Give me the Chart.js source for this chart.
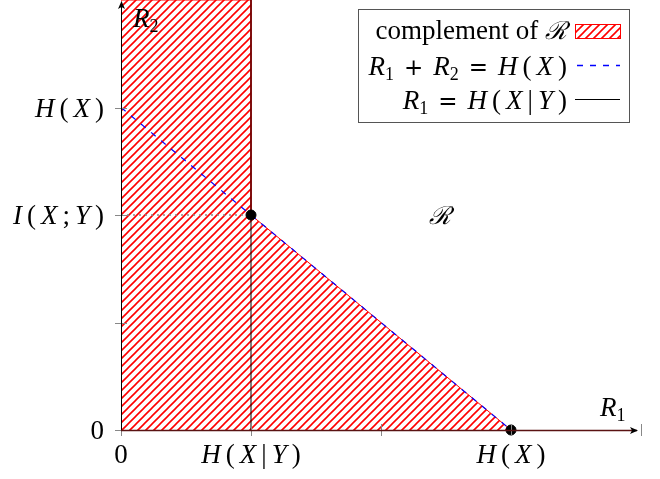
<!DOCTYPE html>
<html>
<head>
<meta charset="utf-8">
<script src="https://cdn.jsdelivr.net/npm/chart.js@4.4.0/dist/chart.umd.min.js"></script>
<style>
  body { margin: 0; background: #fff; }
</style>
</head>
<body>
<canvas id="region-chart" width="660" height="479"></canvas>
<script>
// region outside the achievable rate region
const complementR1 = [0, 0, 1, 1, 3];
const complementR2 = [0, 4, 4, 2, 0];
// R1 + R2 = H(X)
const sumR1 = [0, 3];
const sumR2 = [3, 0];
// R1 = H(X|Y)
const condR1 = [1, 1];
const condR2 = [0, 4];
// dotted level at I(X;Y)
const levelR1 = [0, 1];
const levelR2 = [2, 2];
// corner points
const cornerR1 = [1, 3];
const cornerR2 = [2, 0];

const xTicks = [0, 1, 2, 3, 4];
const xTickLabels = ['0', 'H(X|Y)', '', 'H(X)', ''];
const yTicks = [0, 1, 2, 3];
const yTickLabels = ['0', '', 'I(X;Y)', 'H(X)'];

const legendLabels = ['complement of \u211B', 'R_1 + R_2 = H(X)', 'R_1 = H(X|Y)'];

const SERIF = '"Liberation Serif", "DejaVu Serif", serif';

function pts(xs, ys) {
  return xs.map((x, i) => ({ x: x, y: ys[i] }));
}

function makeHatch() {
  const c = document.createElement('canvas');
  c.width = 8; c.height = 8;
  const g = c.getContext('2d');
  g.strokeStyle = '#ff0000';
  g.lineWidth = 1.6;
  g.beginPath();
  g.moveTo(-2, 10); g.lineTo(10, -2);
  g.moveTo(-2, 2); g.lineTo(2, -2);
  g.moveTo(6, 10); g.lineTo(10, 6);
  g.stroke();
  return g.createPattern(c, 'repeat');
}
const hatch = makeHatch();

// split a label into pieces: words, italic letters, subscripts, operators
function tokens(str) {
  const m = str.match(/[a-z][a-z ]*|_\d|[A-Z]|\u211B|[+=]|\S/g) || [];
  return m.map(t => {
    if (/^[a-z]/.test(t)) return { t: t, font: '27px ' + SERIF, dy: 0, kind: 'word' };
    if (t[0] === '_') return { t: t[1], font: '18px ' + SERIF, dy: 5, kind: 'sub' };
    if (/[A-Z]/.test(t)) return { t: t, font: 'italic 27px ' + SERIF, dy: 0, kind: 'it' };
    if (t === '\u211B') return { t: t, font: 'italic 25px "DejaVu Serif", serif', dy: 0, kind: 'it' };
    if (t === '+' || t === '=') return { t: t, font: '23px "DejaVu Sans", sans-serif', dy: 0, kind: 'op' };
    return { t: t, font: '27px ' + SERIF, dy: 0, kind: 'rm' };
  });
}

function layout(ctx, str) {
  const toks = tokens(str);
  let x = 0;
  toks.forEach((tk, i) => {
    if (i > 0) {
      const prev = toks[i - 1];
      if (tk.kind === 'sub') x += 0;
      else if (tk.kind === 'op' || prev.kind === 'op') x += 10;
      else if (prev.kind === 'word') x += 0;
      else x += 5;
    }
    ctx.font = tk.font;
    tk.x = x;
    x += ctx.measureText(tk.t).width;
  });
  return { toks: toks, width: x };
}

function drawMath(ctx, str, x, y, align) {
  const l = layout(ctx, str);
  let x0 = x;
  if (align === 'center') x0 = x - l.width / 2;
  if (align === 'right') x0 = x - l.width;
  ctx.save();
  ctx.fillStyle = '#000';
  ctx.textAlign = 'left';
  ctx.textBaseline = 'alphabetic';
  l.toks.forEach(tk => {
    ctx.font = tk.font;
    ctx.fillText(tk.t, x0 + tk.x, y + tk.dy);
  });
  ctx.restore();
}

const axesPlugin = {
  id: 'axesPlugin',
  afterDraw(chart) {
    const ctx = chart.ctx;
    const xs = chart.scales.x, ys = chart.scales.y;
    const x0 = xs.getPixelForValue(0), y0 = ys.getPixelForValue(0);
    const xEnd = xs.getPixelForValue(4), yEnd = ys.getPixelForValue(4);

    ctx.save();
    // ticks
    ctx.strokeStyle = '#888';
    ctx.lineWidth = 1;
    xTicks.forEach(v => {
      const px = Math.round(xs.getPixelForValue(v)) + 0.5;
      ctx.beginPath(); ctx.moveTo(px, y0 - 6); ctx.lineTo(px, y0 + 6); ctx.stroke();
    });
    yTicks.forEach(v => {
      const py = Math.round(ys.getPixelForValue(v)) + 0.5;
      ctx.beginPath(); ctx.moveTo(x0 - 6, py); ctx.lineTo(x0 + 6, py); ctx.stroke();
    });

    // axis lines
    ctx.strokeStyle = '#000';
    ctx.beginPath(); ctx.moveTo(x0 + 0.5, y0); ctx.lineTo(x0 + 0.5, yEnd + 2); ctx.stroke();
    ctx.strokeStyle = '#5a1212';
    ctx.lineWidth = 1.5;
    ctx.beginPath(); ctx.moveTo(x0, y0 + 0.5); ctx.lineTo(xEnd - 4, y0 + 0.5); ctx.stroke();

    // arrow heads
    ctx.fillStyle = '#000';
    ctx.beginPath();
    ctx.moveTo(x0 + 0.5, yEnd + 1); ctx.lineTo(x0 - 3, yEnd + 9); ctx.lineTo(x0 + 0.5, yEnd + 7); ctx.lineTo(x0 + 4, yEnd + 9);
    ctx.closePath(); ctx.fill();
    ctx.beginPath();
    ctx.moveTo(xEnd - 3, y0 + 0.5); ctx.lineTo(xEnd - 11, y0 - 3); ctx.lineTo(xEnd - 9, y0 + 0.5); ctx.lineTo(xEnd - 11, y0 + 4);
    ctx.closePath(); ctx.fill();
    ctx.restore();

    // tick labels
    xTicks.forEach((v, i) => {
      if (xTickLabels[i]) drawMath(ctx, xTickLabels[i], xs.getPixelForValue(v), y0 + 33, 'center');
    });
    yTicks.forEach((v, i) => {
      if (yTickLabels[i]) drawMath(ctx, yTickLabels[i], x0 - 17, ys.getPixelForValue(v) + 9, 'right');
    });

    // axis names and region name
    drawMath(ctx, 'R_2', x0 + 12, yEnd + 27, 'left');
    drawMath(ctx, 'R_1', xEnd - 41, y0 - 14, 'left');
    drawMath(ctx, '\u211B', xs.getPixelForValue(2.45), ys.getPixelForValue(2) + 9, 'center');

    // legend
    const bx = 358, by = 9, bw = 271, bh = 113;
    ctx.save();
    ctx.fillStyle = '#fff';
    ctx.fillRect(bx, by, bw, bh);
    ctx.strokeStyle = '#555';
    ctx.lineWidth = 1;
    ctx.strokeRect(bx + 0.5, by + 0.5, bw, bh);
    const rows = [31, 65, 99];
    const textRight = 567, symL = 575, symR = 620;
    // hatched swatch
    ctx.fillStyle = hatch;
    ctx.fillRect(symL, rows[0] - 7, symR - symL, 14);
    ctx.strokeStyle = '#ff0000';
    ctx.strokeRect(symL + 0.5, rows[0] - 7 + 0.5, symR - symL, 14);
    // dashed swatch
    ctx.strokeStyle = '#0000ff';
    ctx.lineWidth = 1.3;
    ctx.setLineDash([6, 7]);
    ctx.beginPath(); ctx.moveTo(symL + 2, rows[1] + 0.5); ctx.lineTo(symR, rows[1] + 0.5); ctx.stroke();
    // solid swatch
    ctx.setLineDash([]);
    ctx.lineWidth = 1;
    ctx.strokeStyle = '#000';
    ctx.beginPath(); ctx.moveTo(symL, rows[2] + 0.5); ctx.lineTo(symR, rows[2] + 0.5); ctx.stroke();
    ctx.restore();
    drawMath(ctx, legendLabels[0], textRight, rows[0] + 8, 'right');
    drawMath(ctx, legendLabels[1], textRight, rows[1] + 10, 'right');
    drawMath(ctx, legendLabels[2], textRight, rows[2] + 10, 'right');
  }
};

new Chart(document.getElementById('region-chart'), {
  type: 'scatter',
  data: {
    datasets: [
      {
        label: 'complement of R',
        data: pts(complementR1, complementR2),
        showLine: true,
        fill: 'shape',
        backgroundColor: hatch,
        borderColor: '#ff0000',
        borderWidth: 1,
        pointRadius: 0,
        tension: 0,
        order: 5
      },
      {
        label: 'I(X;Y) level',
        data: pts(levelR1, levelR2),
        showLine: true,
        borderColor: '#888',
        borderWidth: 1.5,
        borderDash: [2, 4],
        pointRadius: 0,
        order: 3
      },
      {
        label: 'R1 + R2 = H(X)',
        data: pts(sumR1, sumR2),
        showLine: true,
        borderColor: '#0000ff',
        borderWidth: 1.2,
        borderDash: [6, 7],
        pointRadius: 0,
        order: 4
      },
      {
        label: 'R1 = H(X|Y)',
        data: pts(condR1, condR2),
        showLine: true,
        borderColor: '#000',
        borderWidth: 1,
        pointRadius: 0,
        order: 2
      },
      {
        label: 'corners',
        data: pts(cornerR1, cornerR2),
        showLine: false,
        backgroundColor: '#000',
        borderColor: '#000',
        pointRadius: 5,
        order: 1,
        clip: false
      }
    ]
  },
  options: {
    responsive: false,
    animation: false,
    layout: { autoPadding: false, padding: { left: 121, right: 19, top: 0, bottom: 49 } },
    scales: {
      x: { type: 'linear', min: 0, max: 4, display: false },
      y: { type: 'linear', min: 0, max: 4, display: false }
    },
    plugins: {
      legend: { display: false },
      tooltip: { enabled: false }
    }
  },
  plugins: [axesPlugin]
});
</script>
</body>
</html>
